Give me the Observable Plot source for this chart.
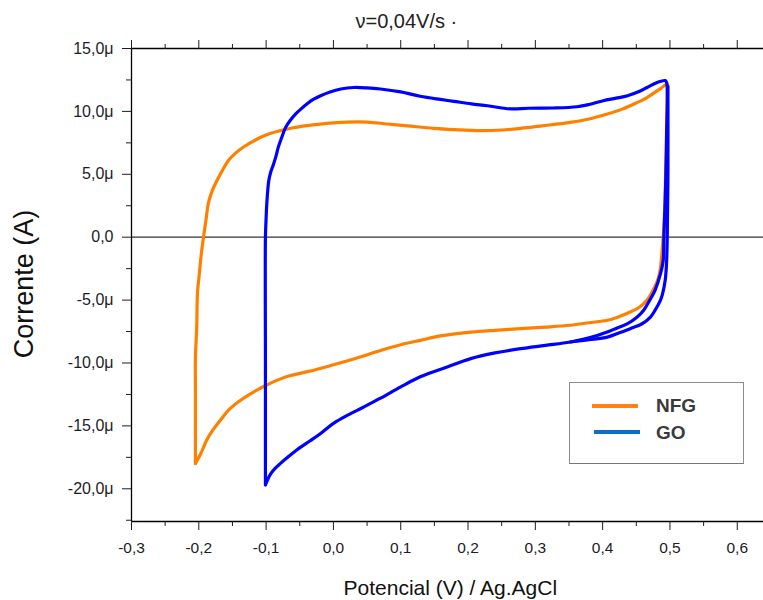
<!DOCTYPE html>
<html>
<head>
<meta charset="utf-8">
<script src="https://cdn.jsdelivr.net/npm/d3@7"></script>
<script src="https://cdn.jsdelivr.net/npm/@observablehq/plot@0.6"></script>
<style>
  body { margin: 0; background: #fff; }
  #wrap { position: relative; width: 763px; height: 600px; font-family: "Liberation Sans", Arial, sans-serif; }
  #legend { position: absolute; left: 569px; top: 382px; width: 175px; height: 82px; box-sizing: border-box;
            border: 1.5px solid #8c8c8c; border-bottom-color: #777; background: #fff; }
  .lg-line { position: absolute; height: 4px; }
  .lg-text { position: absolute; font-weight: bold; font-size: 19px; color: #3a3a3a; line-height: 1; }
</style>
</head>
<body>
<div id="wrap"></div>
<script>
// ---- data (potential in V, current in µA) ----
const seriesNames = ["NFG", "GO"];
const curveColors = ["#ff8000", "#0000ff"];
const legendColors = ["#ff8410", "#0a6fc9"];
const titleText = "ν=0,04V/s ·";
const xLabel = "Potencial (V) / Ag.AgCl";
const yLabel = "Corrente (A)";

const xMajorTicks = [-0.3, -0.2, -0.1, 0.0, 0.1, 0.2, 0.3, 0.4, 0.5, 0.6];
const xMinorTicks = [-0.25, -0.15, -0.05, 0.05, 0.15, 0.25, 0.35, 0.45, 0.55];
const yMajorTicks = [-20, -15, -10, -5, 0, 5, 10, 15];
const yMinorTicks = [-22.5, -17.5, -12.5, -7.5, -2.5, 2.5, 7.5, 12.5];

const nfgCycle = [
  [-0.205,-18.0],[-0.205,-12.0],[-0.205,-9.6],[-0.203,-7.0],[-0.202,-4.5],[-0.199,-2.8],[-0.196,-1.2],
  [-0.193,0.0],[-0.189,1.5],[-0.186,2.65],[-0.180,3.7],[-0.173,4.5],[-0.165,5.3],[-0.156,6.1],
  [-0.145,6.7],[-0.134,7.15],[-0.120,7.6],[-0.108,7.95],[-0.094,8.25],[-0.079,8.47],[-0.060,8.7],
  [-0.039,8.87],[-0.010,9.05],[0.020,9.15],[0.050,9.15],[0.080,9.0],[0.110,8.85],[0.149,8.65],
  [0.180,8.55],[0.219,8.47],[0.250,8.52],[0.278,8.65],[0.310,8.85],[0.352,9.13],[0.380,9.4],
  [0.407,9.79],[0.430,10.2],[0.451,10.7],[0.466,11.1],[0.476,11.45],[0.487,11.85],[0.496,12.2],
  [0.496,11.5],[0.494,6.0],[0.492,2.0],[0.490,0.0],[0.488,-1.3],[0.486,-2.4],[0.484,-3.0],
  [0.481,-3.5],[0.474,-4.3],[0.466,-5.0],[0.455,-5.55],[0.441,-5.95],[0.425,-6.3],[0.407,-6.6],
  [0.380,-6.8],[0.352,-7.0],[0.315,-7.15],[0.278,-7.27],[0.240,-7.4],[0.204,-7.55],[0.159,-7.85],
  [0.129,-8.2],[0.100,-8.55],[0.070,-9.0],[0.035,-9.6],[-0.004,-10.2],[-0.035,-10.65],[-0.064,-11.0],
  [-0.085,-11.4],[-0.103,-11.85],[-0.120,-12.35],[-0.138,-12.96],[-0.155,-13.7],[-0.168,-14.55],
  [-0.180,-15.4],[-0.188,-16.1],[-0.197,-17.2],[-0.203,-17.8],[-0.205,-18.0]
];

const goCycle = [
  [-0.101,-19.7],[-0.101,-10.0],[-0.101,0.0],[-0.100,1.5],[-0.099,2.65],[-0.096,4.5],[-0.093,5.2],
  [-0.089,5.8],[-0.085,6.5],[-0.082,7.14],[-0.077,7.9],[-0.071,8.73],[-0.064,9.3],[-0.056,9.8],
  [-0.048,10.2],[-0.039,10.6],[-0.030,10.95],[-0.019,11.25],[-0.005,11.55],[0.011,11.78],[0.030,11.9],
  [0.050,11.87],[0.070,11.78],[0.100,11.55],[0.129,11.2],[0.159,10.95],[0.179,10.8],[0.205,10.6],
  [0.229,10.45],[0.263,10.2],[0.290,10.25],[0.327,10.27],[0.362,10.37],[0.380,10.55],[0.401,10.85],
  [0.420,11.05],[0.437,11.25],[0.455,11.6],[0.466,11.9],[0.481,12.3],[0.493,12.45],[0.495,12.3],
  [0.495,8.0],[0.493,3.0],[0.491,0.0],[0.490,-1.85],[0.486,-2.9],[0.478,-4.2],[0.470,-5.0],
  [0.461,-5.8],[0.450,-6.4],[0.437,-6.87],[0.420,-7.25],[0.407,-7.54],[0.380,-8.0],[0.352,-8.33],
  [0.315,-8.6],[0.278,-8.86],[0.240,-9.2],[0.204,-9.65],[0.170,-10.3],[0.129,-11.1],[0.100,-11.9],
  [0.070,-12.8],[0.045,-13.5],[0.021,-14.15],[0.000,-14.8],[-0.019,-15.6],[-0.035,-16.2],
  [-0.054,-16.9],[-0.068,-17.5],[-0.079,-18.0],[-0.087,-18.4],[-0.093,-18.8],[-0.098,-19.3],[-0.101,-19.7]
];

const goSecondPass = [
  [0.497,12.0],[0.497,5.0],[0.496,0.0],[0.495,-2.0],[0.493,-3.4],[0.489,-4.5],[0.486,-5.0],
  [0.478,-5.8],[0.471,-6.35],[0.458,-6.9],[0.441,-7.27],[0.425,-7.6],[0.407,-7.94],[0.380,-8.15],[0.352,-8.33]
];

// ---- build table ----
const rows = [
  ...nfgCycle.map(([v, i]) => ({series: "NFG", pass: "NFG", v, i})),
  ...goCycle.map(([v, i]) => ({series: "GO", pass: "GO-1", v, i})),
  ...goSecondPass.map(([v, i]) => ({series: "GO", pass: "GO-2", v, i}))
];

const xDomain = [-0.3, 0.639];
const yDomain = [-22.6, 15];
const fmtX = d => d.toFixed(1).replace(".", ",");
const fmtY = d => d === 0 ? "0,0" : d.toFixed(1).replace(".", ",") + "μ";
const blank = () => "";

const chart = Plot.plot({
  width: 763,
  height: 600,
  marginLeft: 131,
  marginRight: 0,
  marginTop: 48,
  marginBottom: 79,
  style: {fontFamily: '"Liberation Sans", Arial, sans-serif', fontSize: "16px", color: "#1c1c28", background: "#fff", overflow: "visible"},
  x: {domain: xDomain},
  y: {domain: yDomain},
  color: {domain: seriesNames, range: curveColors},
  marks: [
    Plot.ruleY([0], {stroke: "#333", strokeWidth: 1.3}),
    Plot.line(rows.filter(d => d.series === "NFG"), {x: "v", y: "i", z: "pass", stroke: "series", strokeWidth: 3.2, strokeLinejoin: "round", curve: "catmull-rom"}),
    Plot.line(rows.filter(d => d.series === "GO"), {x: "v", y: "i", z: "pass", stroke: "series", strokeWidth: 3.2, strokeLinejoin: "round", curve: "catmull-rom"}),
    Plot.ruleX([xDomain[0]], {stroke: "#000", strokeWidth: 1.3}),
    Plot.ruleY([yDomain[0]], {stroke: "#000", strokeWidth: 1.3}),
    Plot.ruleY([yDomain[1]], {stroke: "#000", strokeWidth: 1.3}),
    Plot.axisX({anchor: "bottom", ticks: xMajorTicks, tickSize: 9, tickPadding: 11, tickFormat: fmtX, label: null, fontSize: 15.5}),
    Plot.axisX({anchor: "bottom", ticks: xMinorTicks, tickSize: 5, tickFormat: blank, label: null}),
    Plot.axisX({anchor: "top", ticks: xMajorTicks, tickSize: 9, tickFormat: blank, label: null}),
    Plot.axisX({anchor: "top", ticks: xMinorTicks, tickSize: 5, tickFormat: blank, label: null}),
    Plot.axisY({anchor: "left", ticks: yMajorTicks, tickSize: 9, tickPadding: 9, tickFormat: fmtY, label: null, fontSize: 16}),
    Plot.axisY({anchor: "left", ticks: yMinorTicks, tickSize: 5, tickFormat: blank, label: null}),
    Plot.text([titleText], {frameAnchor: "top-left", dx: 224, dy: -27, textAnchor: "start", lineAnchor: "middle", fontSize: 20, fill: "#222"}),
    Plot.text([xLabel], {frameAnchor: "bottom-left", dx: 212, dy: 67, textAnchor: "start", lineAnchor: "middle", fontSize: 21, fill: "#111"}),
    Plot.text([yLabel], {frameAnchor: "left", dx: -107, dy: -1, rotate: -90, textAnchor: "middle", lineAnchor: "middle", fontSize: 27, fill: "#111"})
  ]
});

const wrap = document.getElementById("wrap");
wrap.appendChild(chart);

// ---- legend ----
const legend = document.createElement("div");
legend.id = "legend";
seriesNames.forEach((name, k) => {
  const line = document.createElement("div");
  line.className = "lg-line";
  line.style.left = (22 + 2 * k) + "px";
  line.style.top = (21 + 26 * k) + "px";
  line.style.width = "46px";
  line.style.background = legendColors[k];
  legend.appendChild(line);
  const t = document.createElement("div");
  t.className = "lg-text";
  t.textContent = name;
  t.style.left = "86px";
  t.style.top = (13 + 27 * k) + "px";
  legend.appendChild(t);
});
wrap.appendChild(legend);
</script>
</body>
</html>
